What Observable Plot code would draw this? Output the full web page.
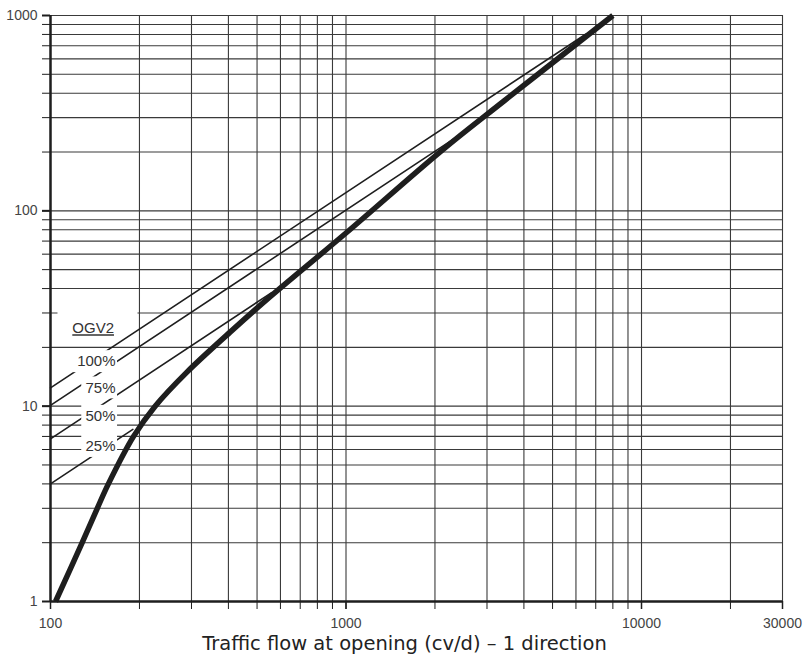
<!DOCTYPE html>
<html><head><meta charset="utf-8">
<script src="https://cdn.jsdelivr.net/npm/d3@7"></script>
<script src="https://cdn.jsdelivr.net/npm/@observablehq/plot@0.6"></script>
<style>body{margin:0;background:#fff}</style>
</head><body><div id="chart"></div>
<script>
// Thick curve (overall relation)
const curveX = [104, 128, 144, 157, 191, 226, 289, 416, 538, 1000, 2113, 3425, 8000];
const curveY = [1, 2, 3, 4, 7, 10, 14.9, 24.8, 35, 77, 204, 365, 1000];

// OGV2 share lines
const ogvNames = ["100%", "75%", "50%", "25%"];
const ogvStartX = [100, 100, 100, 100];
const ogvStartY = [12.4, 10.1, 6.8, 4.0];
const ogvEndX = [6470, 2350, 560, 190];
const ogvEndY = [802, 237, 38.1, 7.6];
const ogvLabelX = [166, 166, 166, 166];
const ogvLabelY = [16.9, 12.4, 8.87, 6.22];
const legendTitle = "OGV2";
const legendX = 164;
const legendY = 25.0;

// Grid and ticks
const xGrid = [100, 200, 300, 400, 500, 600, 700, 800, 900, 1000, 2000, 3000, 4000, 5000, 6000, 7000, 8000, 9000, 10000, 20000, 30000];
const yGrid = [1, 2, 3, 4, 5, 6, 7, 8, 9, 10, 20, 30, 40, 50, 60, 70, 80, 90, 100, 200, 300, 400, 500, 600, 700, 800, 900, 1000];
const xTickLabels = [100, 1000, 10000, 30000];
const yTickLabels = [1, 10, 100, 1000];
const xTitle = "Traffic flow at opening (cv/d) – 1 direction";

const W = 808, H = 661, mL = 50, mR = 26, mT = 15, mB = 60;
const pxPerDecX = (W - mL - mR) / Math.log10(30000 / 100);
const pxPerDecY = (H - mT - mB) / Math.log10(1000 / 1);
const fx = px => Math.pow(10, px / pxPerDecX);
const fy = px => Math.pow(10, px / pxPerDecY);

const curve = curveX.map((x, i) => ({x, y: curveY[i]}));
const lines = [];
ogvNames.forEach((g, i) => {
  lines.push({g, x: ogvStartX[i], y: ogvStartY[i]});
  lines.push({g, x: ogvEndX[i], y: ogvEndY[i]});
});
const labels = ogvNames.map((t, i) => ({t, x: ogvLabelX[i], y: ogvLabelY[i]}));
const boxes = labels.map(d => ({
  x1: d.x / fx(8.6 * d.t.length + 8), x2: d.x * fx(2),
  y1: d.y / fy(11), y2: d.y * fy(11)
}));
boxes.push({x1: legendX / fx(56), x2: legendX * fx(24), y1: legendY * fy(2), y2: legendY * fy(24)});

const ink = "#1e1e1e";
const plot = Plot.plot({
  width: W, height: H,
  marginLeft: mL, marginRight: mR, marginTop: mT, marginBottom: mB,
  style: {fontFamily: "'Liberation Sans', Arial, sans-serif", fontSize: "14px", background: "#fff", color: "#333"},
  x: {type: "log", domain: [100, 30000]},
  y: {type: "log", domain: [1, 1000]},
  marks: [
    Plot.ruleX(xGrid, {stroke: "#3a3a3a", strokeWidth: 1.1}),
    Plot.ruleY(yGrid, {stroke: "#3a3a3a", strokeWidth: 1.1}),
    Plot.axisY({ticks: yGrid, tickSize: 8, tickFormat: () => "", stroke: ink, label: null}),
    Plot.axisY({ticks: yTickLabels, tickSize: 8, tickPadding: 5, tickFormat: d => String(d), stroke: ink, strokeWidth: 2, fill: "#444", label: null}),
    Plot.axisX({ticks: xGrid, tickSize: 8, tickFormat: () => "", stroke: ink, label: null}),
    Plot.axisX({ticks: xTickLabels, tickSize: 8, tickPadding: 9, tickFormat: d => String(d), stroke: ink, strokeWidth: 1.5, fill: "#444", label: null}),
    Plot.line(lines, {x: "x", y: "y", z: "g", stroke: ink, strokeWidth: 1.6}),
    Plot.rect(boxes, {x1: "x1", x2: "x2", y1: "y1", y2: "y2", fill: "white"}),
    Plot.line(curve, {x: "x", y: "y", stroke: ink, strokeWidth: 5.5, curve: "catmull-rom", strokeLinecap: "butt", strokeLinejoin: "round"}),
    Plot.text(labels, {x: "x", y: "y", text: "t", textAnchor: "end", fontSize: 15, fill: "#333"}),
    Plot.text([legendTitle], {x: () => legendX, y: () => legendY, text: d => d, textAnchor: "end", fontSize: 15, fill: "#333"}),
    Plot.ruleX([100], {stroke: ink, strokeWidth: 2.5}),
    Plot.ruleY([1], {stroke: ink, strokeWidth: 2.5}),
    Plot.text([xTitle], {frameAnchor: "bottom", dy: 48, dx: -12, text: d => d, fontSize: 19.5, fontFamily: "'DejaVu Sans', sans-serif", fill: "#222"})
  ]
});
d3.select(plot).selectAll("text").filter(function() { return this.textContent === legendTitle; })
  .attr("text-decoration", "underline");
document.getElementById("chart").appendChild(plot);
</script>
</body></html>
